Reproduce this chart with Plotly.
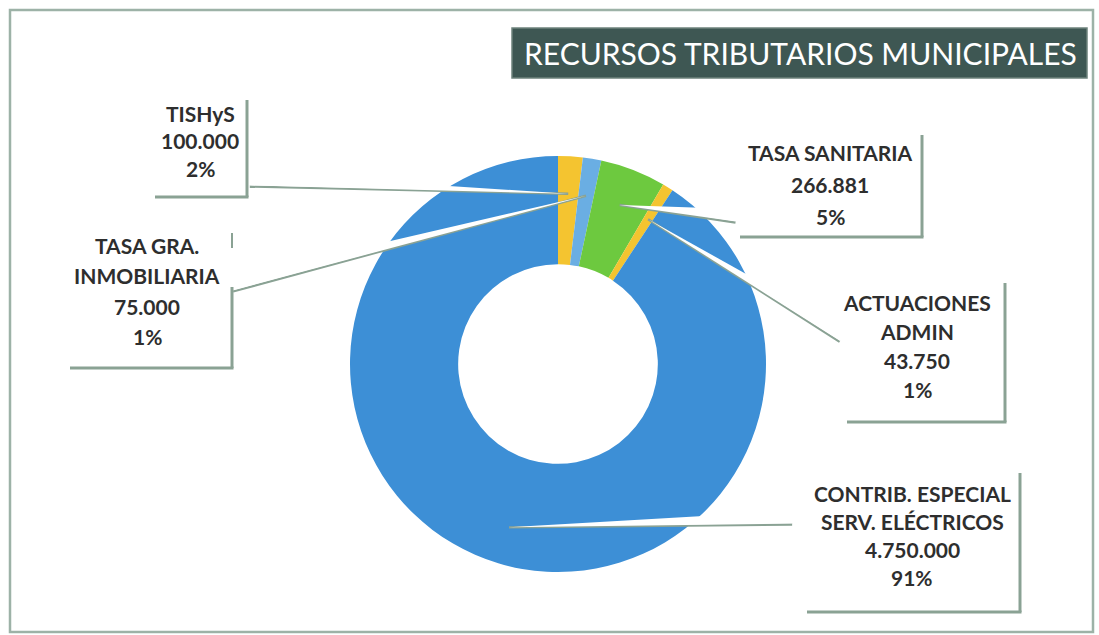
import math
import plotly.graph_objects as go

W, H = 1099, 635

# ---- data ----
categories = ["TISHyS", "TASA GRA.<br>INMOBILIARIA", "TASA SANITARIA",
              "ACTUACIONES<br>ADMIN", "CONTRIB. ESPECIAL<br>SERV. ELÉCTRICOS"]
values = [100000, 75000, 266881, 43750, 4750000]
colors = ["#F4C430", "#6AAEE3", "#6DC93F", "#F4C430", "#3D8FD6"]
title_text = "RECURSOS TRIBUTARIOS MUNICIPALES"

# ---- layout helpers (pixel -> paper) ----
def X(px):
    return px / W

def Y(py):
    return 1 - py / H

# pie geometry (pixels)
CX, CY, R = 558, 364, 208
HOLE = 0.48

# label box layout: center x, first line y, line spacing, leader end (px),
# right border x, top y of border, bottom y, bottom-left x
label_layout = [
    dict(cx=200, y0=113, dy=27.5, end=(250, 182), rx=247, top=100, bot=197, lx=155),
    dict(cx=147, y0=245, dy=30.5, end=(232, 287), rx=232, top=287, bot=368, lx=70),
    dict(cx=830, y0=152, dy=32.5, end=(736, 218), rx=922, top=135, bot=237, lx=740),
    dict(cx=917, y0=302, dy=29.3, end=(842, 338), rx=1005, top=283, bot=422, lx=847),
    dict(cx=912, y0=493, dy=28.0, end=(792, 520), rx=1020, top=473, bot=612, lx=807),
]

total = sum(values)


def fmt_num(v):
    return f"{v:,}".replace(",", ".")


fig = go.Figure()
fig.add_trace(go.Pie(
    labels=[c.replace("<br>", " ") for c in categories],
    values=values,
    hole=HOLE,
    sort=False,
    direction="clockwise",
    rotation=0,
    marker=dict(colors=colors, line=dict(width=0)),
    textinfo="none",
    hoverinfo="label+value+percent",
    showlegend=False,
    domain=dict(x=[X(CX - R), X(CX + R)], y=[Y(CY + R), Y(CY - R)]),
))

shapes = []
annotations = []

# outer frame
shapes.append(dict(type="rect", xref="paper", yref="paper",
                   x0=X(10), x1=X(1093), y0=Y(632), y1=Y(10),
                   line=dict(color="#9DB2A7", width=2.5), fillcolor="rgba(0,0,0,0)",
                   layer="below"))

# title box
shapes.append(dict(type="rect", xref="paper", yref="paper",
                   x0=X(512), x1=X(1087), y0=Y(78), y1=Y(28),
                   line=dict(color="#6E827C", width=1.5), fillcolor="#3E5753"))
annotations.append(dict(text=title_text, xref="paper", yref="paper",
                        x=X(800), y=Y(53), xanchor="center", yanchor="middle",
                        showarrow=False,
                        font=dict(family="Lato, Open Sans, sans-serif", size=30, color="#FFFFFF")))

BORDER = "#8AA294"
cum = 0
for cat, v, lay in zip(categories, values, label_layout):
    mid = (cum + v / 2) / total * 2 * math.pi
    cum += v
    rt = R * 0.82
    tx, ty = CX + rt * math.sin(mid), CY - rt * math.cos(mid)
    ex, ey = lay["end"]
    # perpendicular
    dx, dy = ex - tx, ey - ty
    L = math.hypot(dx, dy)
    nx, ny = -dy / L, dx / L
    if ny < 0:
        nx, ny = -nx, -ny  # point downward (shadow side)
    # shadow line
    shapes.append(dict(type="line", xref="paper", yref="paper",
                       x0=X(tx), y0=Y(ty), x1=X(ex + nx * 4.5), y1=Y(ey + ny * 4.5),
                       line=dict(color=BORDER, width=2.4)))
    # white wedge
    p1 = (ex - nx * 9.0, ey - ny * 9.0)
    p2 = (ex + nx * 3.5, ey + ny * 3.5)
    path = (f"M {X(tx)},{Y(ty)} L {X(p1[0])},{Y(p1[1])} "
            f"L {X(p2[0])},{Y(p2[1])} Z")
    shapes.append(dict(type="path", xref="paper", yref="paper", path=path,
                       fillcolor="#FFFFFF", line=dict(width=0)))
    # box shadow borders (right + bottom)
    shapes.append(dict(type="line", xref="paper", yref="paper",
                       x0=X(lay["rx"]), x1=X(lay["rx"]), y0=Y(lay["top"]), y1=Y(lay["bot"]),
                       line=dict(color=BORDER, width=3)))
    shapes.append(dict(type="line", xref="paper", yref="paper",
                       x0=X(lay["lx"]), x1=X(lay["rx"] + 1.5), y0=Y(lay["bot"]), y1=Y(lay["bot"]),
                       line=dict(color=BORDER, width=3)))
    # text lines
    pct = round(v / total * 100)
    lines = cat.split("<br>") + [fmt_num(v), f"{pct}%"]
    for i, t in enumerate(lines):
        annotations.append(dict(text=t, xref="paper", yref="paper",
                                x=X(lay["cx"]), y=Y(lay["y0"] + i * lay["dy"]),
                                xanchor="center", yanchor="middle", showarrow=False,
                                font=dict(family="Lato, Open Sans, sans-serif", size=21,
                                          color="#2E2E2E", weight="bold")))

# small fragment of the second box border
shapes.append(dict(type="line", xref="paper", yref="paper",
                   x0=X(232), x1=X(232), y0=Y(233), y1=Y(248),
                   line=dict(color=BORDER, width=2)))

fig.update_layout(
    width=W, height=H,
    margin=dict(l=0, r=0, t=0, b=0),
    paper_bgcolor="#FFFFFF",
    plot_bgcolor="#FFFFFF",
    shapes=shapes,
    annotations=annotations,
)

fig.write_html("out.html",
               config={"displayModeBar": False},
               post_script="document.body.style.margin='0';document.body.style.overflow='hidden';")
